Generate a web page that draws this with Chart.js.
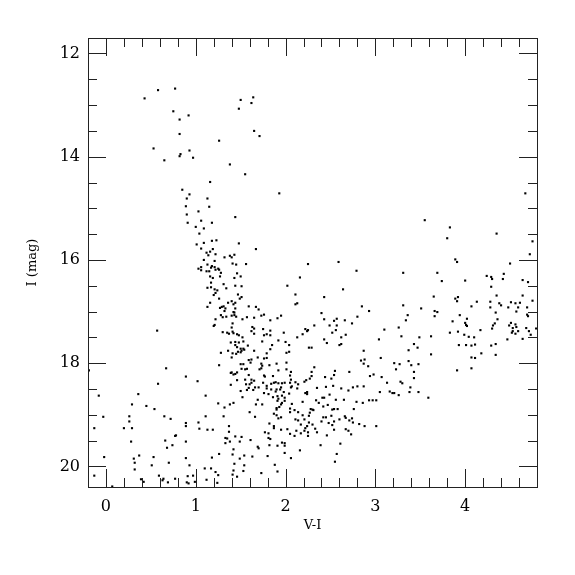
<!DOCTYPE html>
<html>
<head>
<meta charset="utf-8">
<script src="https://cdn.jsdelivr.net/npm/chart.js@4.4.1/dist/chart.umd.min.js"></script>
<style>
  body { margin: 0; background: #fff; }
  canvas { display: block; }
</style>
</head>
<body>
<canvas id="cmd" width="575" height="575"></canvas>
<script>
// V-I colour of each star
const vMinusI = [
  0.58, 0.77, 0.43, 0.75, 0.92, 0.82, 0.82, 0.53, 0.93, 0.83, 0.82, 0.97, 0.65,
  1.64, 1.50, 1.62, 1.48, 1.65, 1.71, 1.26, 1.38, 1.55, 1.16,
  0.85, 0.93, 0.90, 0.89, 1.03, 0.90, 1.06, 0.91, 1.00, 1.04, 1.01, 1.06, 1.03, 1.06, 1.06, 0.57,
  1.93, 1.13, 1.15, 1.44, 1.18, 1.09, 1.18, 1.23, 1.09, 1.48, 1.19, 1.67, 1.12, 1.16, 1.14, 1.22,
  1.43, 1.32, 1.38, 1.40, 1.09, 1.21, 1.45, 1.41, 1.56, 1.13, 1.18, 1.17, 1.21, 1.22, 1.25, 1.26,
  1.12, 1.15, 1.28, 1.46, 2.25, 1.16, 1.19, 1.27, 1.43, 1.50, 2.16, 1.17, 1.31, 1.44, 1.51, 1.13,
  1.17, 1.21, 1.24, 2.02, 1.34, 1.22, 1.20, 1.47, 2.11, 1.26, 1.49, 1.51, 1.16, 1.36, 1.40, 1.44,
  1.31, 1.42, 2.11, 2.13, 1.13, 1.27, 1.29, 1.59, 1.67, 1.70, 1.33, 1.44, 1.32, 1.42, 1.43, 1.76,
  1.73, 1.95, 1.91, 1.28, 1.40, 1.43, 1.45, 1.34, 1.30, 1.57, 1.65, 1.52, 1.22, 1.83, 1.20, 1.21,
  1.40, 1.63, 1.65, 1.41, 1.30, 1.35, 1.37, 1.41, 1.42, 1.46, 1.48, 1.52, 1.62, 1.75, 1.83, 1.79,
  1.83, 1.98, 1.76, 2.13, 2.19, 2.22, 2.25, 2.24, 1.65,
  3.55, 2.59, 2.79, 3.31, 2.64, 2.43, 2.85, 2.93, 3.31, 3.51, 2.40, 3.36, 2.80, 2.43, 2.57, 2.54,
  2.66, 3.34, 2.32, 2.49, 2.57, 2.74, 2.56, 2.52, 3.26, 3.10, 2.67, 2.62, 3.29, 3.49,
  4.67, 3.83, 3.80, 4.35, 4.75, 4.72, 3.89, 3.91, 4.50, 3.69, 3.74, 4.00, 4.24, 4.29, 4.30, 4.43,
  4.42, 4.64, 4.70, 4.29, 3.65, 3.89, 3.92, 3.91, 4.13, 4.35, 4.64, 4.28, 4.75, 4.51, 4.38, 4.40,
  4.56, 4.61, 4.07, 4.28, 4.48, 4.59, 4.69, 3.66, 3.69, 4.34, 4.57, 3.94, 3.66, 4.69, 4.70, 4.02,
  4.36, 3.86, 4.00, 4.33, 4.51, 4.01, 4.02, 4.31, 4.49, 4.56, 4.53, 4.57, 4.17, 4.30, 4.68, 4.71,
  4.79, 3.83, 3.92, 4.53, 4.59, 4.56, 4.52, 3.62, 3.99, 4.04, 4.10, 4.73,
  -0.19, 0.67, 0.89, 1.02, 0.58, -0.08, 0.36, 0.29, 0.45, 0.54, -0.03, 0.26, 0.26, 0.65, 0.72, 0.89,
  0.89, 1.03, 1.04, -0.13, 0.20, 0.29, 0.78, 0.77, 0.66, 0.28, 0.89, 0.74, 0.68, -0.02, 0.37, 0.31,
  0.32, 0.53, 0.70, 0.89, 0.93, 0.51, 0.32, -0.13, 0.59, 0.64, 0.63, 0.69, 0.77, 0.39, 0.42, 0.91,
  0.97, 0.90, 0.92, 0.99, 0.07,
  1.39, 1.44, 1.48, 1.53, 1.74, 1.92, 2.00, 2.04, 1.85, 2.26, 2.29, 1.46, 1.50, 1.53, 1.58, 1.44,
  1.36, 1.41, 1.45, 1.47, 1.50, 1.51, 1.54, 1.28, 1.65, 1.79, 1.83, 2.01, 2.04, 1.40, 1.59, 1.62,
  1.61, 1.69, 1.76, 1.79, 1.50, 1.53, 1.73, 1.74, 1.82, 1.90, 1.26, 2.01, 1.51, 1.55, 1.57, 1.71,
  1.73, 1.92, 2.01, 2.06, 1.39, 1.40, 1.42, 1.44, 1.46, 1.59, 1.76, 1.77, 1.86, 2.05, 2.29, 2.29,
  1.46, 1.55, 1.62, 1.65, 1.62, 1.56, 1.60, 1.39, 1.75, 1.79, 1.84, 1.87, 1.89, 1.92, 1.96, 1.99,
  2.05, 2.06, 2.11, 2.21, 2.23, 2.27, 2.14, 2.07, 1.79, 1.70, 1.66, 1.59, 1.57, 1.64, 1.50, 1.84,
  1.90, 1.94, 1.89, 1.98, 2.06, 2.13, 1.95, 1.76, 1.81, 1.91, 1.96, 2.04, 2.22, 2.24, 2.24, 1.11,
  1.52, 1.86, 1.92, 1.99, 1.91, 1.99, 1.69, 1.42, 1.38, 1.25, 1.67, 1.74, 1.96, 1.95, 1.93, 1.90,
  2.07, 2.19, 1.32, 1.60, 1.90, 2.05, 2.10, 2.05, 2.28, 2.30, 1.87, 1.90, 1.92, 1.95, 2.14, 2.19,
  2.27, 1.66, 1.11, 1.31, 2.11, 2.14, 2.26, 2.21, 2.26, 2.24, 2.17, 2.30, 1.82, 1.87, 1.87, 1.37,
  1.13, 1.19, 1.37, 1.95, 2.02, 2.12, 2.21, 2.22, 2.17, 2.25, 2.25, 1.77, 1.81, 2.05, 2.10, 1.44,
  1.51, 1.81, 1.83, 1.33, 1.35, 1.61, 1.38, 1.33, 1.49, 1.96, 1.99, 1.99, 1.82, 1.91, 1.69, 1.70,
  1.42, 1.99, 2.16, 1.26, 1.41, 1.54, 1.63, 1.80, 2.06, 1.18, 1.49, 1.43, 1.54, 1.88, 1.10, 1.17,
  1.42, 1.53, 1.91, 1.22, 1.25, 1.41, 1.46, 1.73, 1.12, 1.24,
  2.43, 2.46, 2.60, 2.62, 3.04, 3.43, 3.47, 3.37, 2.87, 3.06, 2.84, 2.88, 2.87, 2.92, 3.21, 3.27,
  3.37, 3.40, 3.48, 3.23, 2.32, 2.55, 2.71, 3.43, 2.54, 2.44, 2.51, 2.94, 2.98, 3.07, 3.43, 3.13,
  3.28, 3.30, 2.35, 2.45, 2.53, 2.62, 2.70, 2.75, 2.80, 2.87, 3.39, 3.05, 3.16, 3.19, 3.21, 3.26,
  3.38, 3.48, 2.49, 2.41, 2.43, 2.34, 2.37, 2.56, 2.65, 2.79, 2.86, 2.93, 2.97, 3.01, 2.42, 2.47,
  2.52, 2.54, 2.58, 2.76, 2.31, 2.42, 2.45, 2.51, 2.66, 2.67, 2.74, 2.60, 2.71, 2.40, 2.48, 2.54,
  2.75, 2.82, 2.88, 3.01, 2.52, 2.33, 2.54, 2.67, 2.70, 2.35, 2.73, 2.46, 2.39, 2.61, 2.57, 2.55,
  4.47, 4.64, 3.93, 4.01, 4.07, 4.11, 4.29, 4.34, 3.62, 4.07, 4.11, 4.18, 4.34, 3.91, 4.07, 3.59
];

// I magnitude of each star (same order)
const iMag = [
  12.71, 12.68, 12.87, 13.12, 13.20, 13.28, 13.56, 13.84, 13.88, 13.95, 13.99, 14.02, 14.07,
  12.85, 12.90, 12.96, 13.07, 13.50, 13.60, 13.69, 14.15, 14.34, 14.49,
  14.64, 14.73, 14.81, 14.96, 15.06, 15.12, 15.24, 15.28, 15.36, 15.49, 15.70, 15.78, 16.17, 16.14, 16.20, 17.37,
  14.71, 14.81, 14.97, 15.17, 15.28, 15.39, 15.63, 15.62, 15.67, 15.68, 15.79, 15.79, 15.86, 15.84, 15.91, 15.89,
  15.90, 15.95, 15.92, 15.95, 16.00, 16.02, 16.09, 16.07, 16.08, 16.09, 16.12, 16.15, 16.14, 16.19, 16.17, 16.19,
  16.22, 16.22, 16.25, 16.26, 16.08, 16.32, 16.35, 16.32, 16.35, 16.32, 16.34, 16.44, 16.47, 16.50, 16.51, 16.54,
  16.53, 16.57, 16.59, 16.50, 16.55, 16.64, 16.68, 16.67, 16.67, 16.75, 16.75, 16.72, 16.83, 16.83, 16.80, 16.83,
  16.90, 16.86, 16.86, 16.84, 16.91, 16.93, 16.91, 16.90, 16.91, 16.96, 16.94, 16.94, 16.99, 17.01, 17.02, 17.06,
  17.08, 17.08, 17.13, 17.07, 17.08, 17.07, 17.10, 17.10, 17.11, 17.11, 17.12, 17.15, 17.15, 17.17, 17.28, 17.26,
  17.31, 17.30, 17.33, 17.23, 17.40, 17.41, 17.43, 17.39, 17.42, 17.44, 17.46, 17.50, 17.38, 17.34, 17.37, 17.44,
  17.46, 17.41, 17.46, 17.50, 17.44, 17.34, 17.36, 17.38, 17.43,
  15.23, 16.04, 16.21, 16.25, 16.57, 16.72, 16.90, 16.99, 16.88, 16.94, 17.03, 17.07, 17.10, 17.15, 17.14, 17.18,
  17.17, 17.17, 17.27, 17.27, 17.27, 17.23, 17.36, 17.41, 17.31, 17.35, 17.45, 17.50, 17.48, 17.50,
  14.71, 15.37, 15.58, 15.49, 15.64, 15.89, 15.99, 16.04, 16.07, 16.25, 16.41, 16.40, 16.31, 16.33, 16.37, 16.27,
  16.37, 16.39, 16.43, 16.52, 16.71, 16.75, 16.72, 16.80, 16.81, 16.69, 16.69, 16.81, 16.79, 16.82, 16.84, 16.88,
  16.84, 16.83, 16.90, 16.92, 16.92, 16.92, 16.92, 16.99, 17.01, 17.02, 17.00, 17.07, 17.09, 17.06, 17.09, 17.14,
  17.15, 17.19, 17.22, 17.23, 17.22, 17.26, 17.28, 17.27, 17.27, 17.25, 17.32, 17.30, 17.36, 17.33, 17.32, 17.38,
  17.33, 17.41, 17.39, 17.38, 17.38, 17.43, 17.41, 17.48, 17.45, 17.49, 17.50, 17.45,
  18.14, 18.10, 18.26, 18.35, 18.40, 18.63, 18.60, 18.80, 18.83, 18.89, 19.04, 19.03, 19.13, 19.03, 19.08, 19.16,
  19.22, 19.15, 19.27, 19.26, 19.26, 19.26, 19.40, 19.41, 19.50, 19.52, 19.52, 19.59, 19.64, 19.82, 19.79, 19.85,
  19.93, 19.82, 19.93, 19.84, 19.98, 19.98, 20.06, 20.18, 20.18, 20.24, 20.27, 20.31, 20.24, 20.25, 20.30, 20.19,
  20.18, 20.31, 20.33, 20.30, 20.39,
  17.60, 17.59, 17.60, 17.58, 17.58, 17.56, 17.59, 17.65, 17.65, 17.70, 17.70, 17.69, 17.72, 17.72, 17.66, 17.65,
  17.76, 17.81, 17.82, 17.78, 17.79, 17.76, 17.74, 17.80, 17.76, 17.81, 17.73, 17.80, 17.78, 17.89, 17.94, 17.93,
  17.99, 17.89, 17.91, 17.90, 18.02, 18.02, 18.01, 18.05, 18.04, 18.01, 18.04, 17.99, 18.11, 18.12, 18.11, 18.12,
  18.10, 18.14, 18.12, 18.17, 18.19, 18.18, 18.22, 18.21, 18.18, 18.23, 18.24, 18.26, 18.25, 18.24, 18.17, 18.25,
  18.33, 18.32, 18.32, 18.34, 18.38, 18.41, 18.41, 18.42, 18.38, 18.44, 18.40, 18.38, 18.37, 18.39, 18.39, 18.38,
  18.38, 18.32, 18.37, 18.36, 18.33, 18.30, 18.41, 18.45, 18.49, 18.47, 18.47, 18.48, 18.52, 18.52, 18.54, 18.51,
  18.51, 18.51, 18.55, 18.56, 18.47, 18.49, 18.47, 18.58, 18.60, 18.64, 18.63, 18.59, 18.58, 18.56, 18.60, 18.63,
  18.66, 18.66, 18.69, 18.67, 18.73, 18.73, 18.71, 18.77, 18.80, 18.78, 18.80, 18.80, 18.77, 18.80, 18.85, 18.87,
  18.79, 18.75, 18.86, 18.95, 18.90, 18.88, 18.91, 18.95, 18.89, 18.90, 18.98, 19.01, 19.07, 19.05, 18.95, 19.01,
  18.96, 19.04, 19.03, 19.03, 19.09, 19.11, 19.02, 19.09, 19.15, 19.22, 19.19, 19.19, 19.17, 19.22, 19.26, 19.22,
  19.29, 19.29, 19.33, 19.29, 19.28, 19.31, 19.31, 19.26, 19.36, 19.41, 19.34, 19.34, 19.36, 19.37, 19.41, 19.42,
  19.43, 19.45, 19.47, 19.45, 19.46, 19.49, 19.52, 19.55, 19.52, 19.54, 19.55, 19.60, 19.59, 19.60, 19.62, 19.65,
  19.67, 19.74, 19.69, 19.76, 19.77, 19.79, 19.81, 19.80, 19.84, 19.83, 19.85, 19.95, 19.98, 19.97, 20.04, 20.04,
  20.08, 20.09, 20.10, 20.11, 20.17, 20.16, 20.20, 20.13, 20.26, 20.32,
  17.54, 17.61, 17.65, 17.63, 17.54, 17.63, 17.70, 17.75, 17.76, 17.90, 17.95, 17.93, 18.01, 18.06, 18.00, 18.02,
  17.96, 18.04, 18.02, 18.12, 18.08, 18.15, 18.17, 18.17, 18.23, 18.27, 18.30, 18.25, 18.22, 18.27, 18.29, 18.38,
  18.36, 18.39, 18.48, 18.46, 18.44, 18.49, 18.53, 18.47, 18.45, 18.45, 18.47, 18.56, 18.55, 18.58, 18.58, 18.62,
  18.56, 18.56, 18.61, 18.67, 18.67, 18.72, 18.77, 18.71, 18.71, 18.75, 18.77, 18.72, 18.72, 18.72, 18.84, 18.81,
  18.90, 18.89, 18.89, 18.89, 18.91, 19.05, 19.05, 19.02, 19.03, 19.06, 19.07, 19.09, 19.11, 19.13, 19.16, 19.13,
  19.15, 19.18, 19.22, 19.22, 19.20, 19.27, 19.29, 19.28, 19.31, 19.34, 19.38, 19.40, 19.59, 19.56, 19.76, 19.91,
  17.54, 17.53, 17.65, 17.65, 17.66, 17.64, 17.66, 17.63, 17.83, 17.89, 17.90, 17.81, 17.84, 18.14, 18.10, 18.67
];

const xTickLabels = [0, 1, 2, 3, 4];
const yTickLabels = [12, 14, 16, 18, 20];

const stars = vMinusI.map((v, i) => ({ x: v, y: iMag[i] }));
const serif = "'DejaVu Serif', 'Liberation Serif', serif";

// frame with inward ticks on all four sides
const framePlugin = {
  id: 'frame',
  afterDraw(chart) {
    const ctx = chart.ctx;
    const a = chart.chartArea;
    const xs = chart.scales.x, ys = chart.scales.y;
    ctx.save();
    ctx.strokeStyle = '#222';
    ctx.lineWidth = 1;
    ctx.strokeRect(Math.round(a.left) + 0.5, Math.round(a.top) + 0.5,
      Math.round(a.right - a.left), Math.round(a.bottom - a.top));
    ctx.beginPath();
    for (let k = -1; k <= 24; k++) {
      const v = k / 5;
      const px = Math.round(xs.getPixelForValue(v)) + 0.5;
      const len = (k % 5 === 0) ? 18 : 9;
      ctx.moveTo(px, a.bottom); ctx.lineTo(px, a.bottom - len);
      ctx.moveTo(px, a.top); ctx.lineTo(px, a.top + len);
    }
    for (let k = 24; k <= 40; k++) {
      const v = k / 2;
      const py = Math.round(ys.getPixelForValue(v)) + 0.5;
      const len = (k % 4 === 0) ? 18 : 9;
      ctx.moveTo(a.left, py); ctx.lineTo(a.left + len, py);
      ctx.moveTo(a.right, py); ctx.lineTo(a.right - len, py);
    }
    ctx.stroke();
    ctx.restore();
  }
};

new Chart(document.getElementById('cmd'), {
  type: 'scatter',
  data: {
    datasets: [{
      data: stars,
      pointStyle: 'rect',
      pointRadius: 1.5,
      backgroundColor: '#000',
      borderWidth: 0
    }]
  },
  options: {
    responsive: false,
    animation: false,
    plugins: { legend: { display: false }, tooltip: { enabled: false } },
    layout: { padding: { left: 25, top: 38, right: 38, bottom: 42 } },
    scales: {
      x: {
        type: 'linear',
        min: -0.2,
        max: 4.8,
        grid: { display: false, drawTicks: false },
        border: { display: false },
        afterBuildTicks: s => { s.ticks = xTickLabels.map(v => ({ value: v })); },
        afterFit: s => { s.height = 46; },
        ticks: { font: { family: serif, size: 16 }, color: '#000', padding: 10, maxRotation: 0 },
        title: { display: true, text: 'V-I', font: { family: serif, size: 13 }, color: '#000', padding: 0 }
      },
      y: {
        type: 'linear',
        reverse: true,
        min: 11.7,
        max: 20.4,
        grid: { display: false, drawTicks: false },
        border: { display: false },
        afterBuildTicks: s => { s.ticks = yTickLabels.map(v => ({ value: v })); },
        afterFit: s => { s.width = 63; },
        ticks: { font: { family: serif, size: 16 }, color: '#000', padding: 8 },
        title: { display: true, text: 'I (mag)', font: { family: serif, size: 13 }, color: '#000', padding: 0 }
      }
    }
  },
  plugins: [framePlugin]
});
</script>
</body>
</html>
